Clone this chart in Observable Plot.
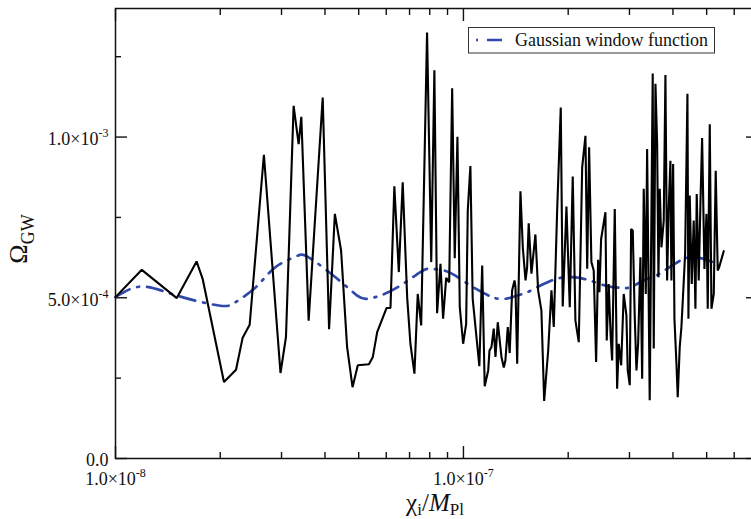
<!DOCTYPE html>
<html>
<head>
<meta charset="utf-8">
<script src="https://cdn.jsdelivr.net/npm/d3@7"></script>
<script src="https://cdn.jsdelivr.net/npm/@observablehq/plot@0.6"></script>
<style>
  html, body { margin: 0; padding: 0; background: #fff; overflow: hidden; }
  #chart { width: 751px; height: 519px; overflow: hidden; }
</style>
</head>
<body>
<div id="chart"></div>
<script>
// ---- data ----
const chiSpectrum = [
  1.00e-8, 1.19e-8, 1.50e-8, 1.71e-8, 1.78e-8, 2.05e-8, 2.22e-8, 2.32e-8, 2.43e-8, 2.67e-8,
  2.98e-8, 3.09e-8, 3.25e-8, 3.36e-8, 3.42e-8, 3.59e-8, 3.94e-8, 4.11e-8, 4.27e-8, 4.45e-8,
  4.63e-8, 4.80e-8, 4.97e-8, 5.35e-8, 5.49e-8, 5.65e-8, 6.01e-8, 6.17e-8, 6.33e-8, 6.52e-8,
  6.69e-8, 6.89e-8, 7.04e-8, 7.23e-8, 7.39e-8, 7.56e-8, 7.86e-8, 8.08e-8, 8.25e-8, 8.40e-8,
  8.59e-8, 8.74e-8, 8.92e-8, 9.10e-8, 9.28e-8, 9.44e-8, 9.61e-8, 9.76e-8, 9.98e-8, 1.018e-7,
  1.029e-7, 1.047e-7, 1.063e-7, 1.111e-7, 1.132e-7, 1.151e-7, 1.178e-7, 1.188e-7, 1.204e-7, 1.222e-7,
  1.236e-7, 1.255e-7, 1.286e-7, 1.306e-7, 1.320e-7, 1.341e-7, 1.358e-7, 1.380e-7, 1.402e-7, 1.411e-7,
  1.427e-7, 1.458e-7, 1.481e-7, 1.508e-7, 1.524e-7, 1.540e-7, 1.568e-7, 1.610e-7, 1.639e-7, 1.675e-7,
  1.706e-7, 1.752e-7, 1.790e-7, 1.818e-7, 1.859e-7, 1.904e-7, 1.929e-7, 1.977e-7, 2.021e-7, 2.061e-7,
  2.098e-7, 2.145e-7, 2.194e-7, 2.242e-7, 2.268e-7, 2.297e-7, 2.332e-7, 2.368e-7, 2.406e-7, 2.438e-7,
  2.459e-7, 2.487e-7, 2.559e-7, 2.581e-7, 2.615e-7, 2.650e-7, 2.675e-7, 2.722e-7, 2.765e-7, 2.795e-7,
  2.840e-7, 2.888e-7, 2.940e-7, 2.966e-7, 3.006e-7, 3.033e-7, 3.066e-7, 3.106e-7, 3.142e-7, 3.177e-7,
  3.226e-7, 3.263e-7, 3.297e-7, 3.342e-7, 3.372e-7, 3.430e-7, 3.499e-7, 3.523e-7, 3.563e-7, 3.603e-7,
  3.634e-7, 3.666e-7, 3.707e-7, 3.764e-7, 3.806e-7, 3.849e-7, 3.890e-7, 3.934e-7, 3.960e-7, 4.005e-7,
  4.040e-7, 4.094e-7, 4.129e-7, 4.184e-7, 4.231e-7, 4.279e-7, 4.336e-7, 4.403e-7, 4.432e-7, 4.470e-7,
  4.530e-7, 4.590e-7, 4.642e-7, 4.682e-7, 4.744e-7, 4.798e-7, 4.852e-7, 4.927e-7, 4.993e-7, 5.036e-7,
  5.104e-7, 5.161e-7, 5.241e-7, 5.309e-7, 5.380e-7, 5.431e-7, 5.598e-7
];
const omegaSpectrum = [
  5.02e-4, 5.87e-4, 4.99e-4, 6.13e-4, 5.59e-4, 2.38e-4, 2.76e-4, 3.76e-4, 4.16e-4, 9.45e-4,
  2.66e-4, 3.78e-4, 1.097e-3, 9.78e-4, 1.063e-3, 4.29e-4, 1.123e-3, 4.02e-4, 7.61e-4, 6.47e-4,
  3.47e-4, 2.22e-4, 2.90e-4, 2.93e-4, 3.16e-4, 3.93e-4, 4.68e-4, 4.68e-4, 8.47e-4, 5.80e-4,
  8.59e-4, 5.02e-4, 3.57e-4, 2.64e-4, 5.12e-4, 4.14e-4, 1.325e-3, 6.11e-4, 1.208e-3, 4.52e-4,
  6.06e-4, 4.35e-4, 5.62e-4, 5.48e-4, 1.152e-3, 6.23e-4, 1.001e-3, 4.71e-4, 3.57e-4, 4.19e-4,
  7.71e-4, 9.10e-4, 4.97e-4, 2.87e-4, 6.00e-4, 2.25e-4, 2.74e-4, 3.36e-4, 3.47e-4, 4.04e-4,
  3.16e-4, 4.24e-4, 3.16e-4, 2.83e-4, 3.05e-4, 4.09e-4, 3.28e-4, 5.23e-4, 5.54e-4, 5.33e-4,
  2.95e-4, 8.31e-4, 6.57e-4, 5.54e-4, 5.95e-4, 7.32e-4, 5.75e-4, 6.97e-4, 5.23e-4, 4.61e-4,
  1.79e-4, 3.36e-4, 5.23e-4, 4.09e-4, 7.71e-4, 1.092e-3, 4.73e-4, 7.84e-4, 4.71e-4, 8.77e-4,
  4.29e-4, 3.62e-4, 9.06e-4, 1.004e-3, 5.90e-4, 9.68e-4, 6.11e-4, 5.85e-4, 3.00e-4, 6.18e-4,
  5.17e-4, 6.83e-4, 7.66e-4, 3.67e-4, 5.43e-4, 3.78e-4, 3.05e-4, 7.76e-4, 2.17e-4, 3.57e-4,
  2.90e-4, 5.12e-4, 4.45e-4, 2.74e-4, 2.28e-4, 7.14e-4, 7.09e-4, 4.45e-4, 2.74e-4, 3.57e-4,
  6.26e-4, 2.48e-4, 8.39e-4, 5.12e-4, 9.63e-4, 1.81e-4, 1.198e-3, 3.42e-4, 1.166e-3, 9.78e-4,
  5.64e-4, 8.39e-4, 6.57e-4, 7.40e-4, 1.193e-3, 5.54e-4, 7.81e-4, 9.26e-4, 5.54e-4, 9.16e-4,
  4.35e-4, 2.95e-4, 1.91e-4, 3.47e-4, 4.09e-4, 5.12e-4, 6.37e-4, 1.135e-3, 4.35e-4, 8.18e-4,
  5.43e-4, 7.40e-4, 4.66e-4, 8.23e-4, 5.54e-4, 7.92e-4, 9.97e-4, 5.90e-4, 7.61e-4, 4.66e-4,
  1.040e-3, 4.66e-4, 5.12e-4, 8.95e-4, 5.85e-4, 5.95e-4, 6.45e-4
];
const chiWindow = [
  1.00e-8, 1.19e-8, 1.50e-8, 1.98e-8, 2.21e-8, 2.53e-8, 2.88e-8, 3.29e-8, 3.59e-8, 4.34e-8,
  4.95e-8, 5.29e-8, 5.77e-8, 6.52e-8, 7.52e-8, 8.04e-8, 8.78e-8, 9.48e-8, 1.047e-7, 1.157e-7,
  1.222e-7, 1.320e-7, 1.427e-7, 1.524e-7, 1.629e-7, 1.778e-7, 1.900e-7, 2.053e-7, 2.217e-7, 2.395e-7,
  2.615e-7, 2.826e-7, 3.020e-7, 3.297e-7, 3.523e-7, 3.724e-7, 4.204e-7, 4.543e-7, 4.904e-7, 5.416e-7
];
const omegaWindow = [
  5.02e-4, 5.35e-4, 5.07e-4, 4.76e-4, 4.86e-4, 5.33e-4, 5.95e-4, 6.28e-4, 6.26e-4, 5.59e-4,
  5.07e-4, 4.97e-4, 5.07e-4, 5.35e-4, 5.80e-4, 5.90e-4, 5.85e-4, 5.69e-4, 5.38e-4, 5.12e-4,
  5.00e-4, 4.97e-4, 5.07e-4, 5.17e-4, 5.33e-4, 5.52e-4, 5.62e-4, 5.64e-4, 5.59e-4, 5.48e-4,
  5.35e-4, 5.31e-4, 5.33e-4, 5.54e-4, 5.66e-4, 5.80e-4, 6.16e-4, 6.26e-4, 6.21e-4, 6.03e-4
];
const xMajorTicks = [1e-8, 1e-7];
const xMinorTicks = [2e-8, 3e-8, 4e-8, 5e-8, 6e-8, 7e-8, 8e-8, 9e-8, 2e-7, 3e-7, 4e-7, 5e-7, 6e-7, 7e-7];
const xTickLabels = ["1.0×10^-8", "1.0×10^-7"];
const yMajorTicks = [0, 5e-4, 1e-3];
const yMinorTicks = [2.5e-4, 7.5e-4, 1.25e-3];
const yTickLabels = ["0.0", "5.0×10^-4", "1.0×10^-3"];
const legendLabel = "Gaussian window function";
const yTitle = ["Ω", "GW"];
const xTitle = ["χ", "i", "/", "M", "Pl"];

// ---- tables ----
const spectrum = chiSpectrum.map((c, i) => ({chi: c, omega: omegaSpectrum[i]}));
const windowFn = chiWindow.map((c, i) => ({chi: c, omega: omegaWindow[i]}));

const blue = "#2f48aa";
const ink = "#111";
const tickCommon = {label: null, fill: "none", stroke: ink, strokeWidth: 1.4};

const chart = Plot.plot({
  width: 751,
  height: 519,
  marginLeft: 115,
  marginRight: -6,
  marginTop: 8,
  marginBottom: 61,
  x: {type: "log", domain: [1e-8, 7e-7]},
  y: {domain: [0, 1.4e-3]},
  style: {fontFamily: "'Liberation Serif', 'DejaVu Serif', serif", fontSize: "18px", background: "white", color: ink},
  marks: [
    Plot.line(windowFn, {x: "chi", y: "omega", stroke: blue, strokeWidth: 2.7, strokeDasharray: "16,8,2,8", curve: "natural"}),
    Plot.line(spectrum, {x: "chi", y: "omega", stroke: "#000", strokeWidth: 2.1, strokeLinejoin: "miter"}),
    Plot.frame({stroke: ink, strokeWidth: 1.5}),
    Plot.axisX(xMajorTicks, {anchor: "bottom", tickSize: -12, ...tickCommon}),
    Plot.axisX(xMinorTicks, {anchor: "bottom", tickSize: -6, ...tickCommon}),
    Plot.axisX(xMajorTicks, {anchor: "top", tickSize: -12, ...tickCommon}),
    Plot.axisX(xMinorTicks, {anchor: "top", tickSize: -6, ...tickCommon}),
    Plot.axisY(yMajorTicks, {anchor: "left", tickSize: -12, ...tickCommon}),
    Plot.axisY(yMinorTicks, {anchor: "left", tickSize: -6, ...tickCommon}),
    Plot.axisY(yMajorTicks, {anchor: "right", tickSize: -12, ...tickCommon}),
    Plot.axisY(yMinorTicks, {anchor: "right", tickSize: -6, ...tickCommon}),
    Plot.axisX(xMajorTicks, {anchor: "bottom", tickSize: 0, tickPadding: 14, label: null, fill: ink,
      tickFormat: d => xTickLabels[xMajorTicks.indexOf(d)]}),
    Plot.axisY(yMajorTicks, {anchor: "left", tickSize: 0, tickPadding: 7, dy: 2, label: null, fill: ink,
      tickFormat: d => yTickLabels[yMajorTicks.indexOf(d)]})
  ]
});
document.getElementById("chart").append(chart);

const svg = d3.select(chart);
// superscript exponents in tick labels
svg.selectAll("text").each(function () {
  const t = this.textContent;
  if (t.includes("^")) {
    const [base, exp] = t.split("^");
    const s = d3.select(this);
    s.text(null);
    s.append("tspan").text(base);
    s.append("tspan").attr("dy", -8).attr("font-size", 12).text(exp);
  }
});

// y axis title
const yt = svg.append("text")
  .attr("transform", "translate(27,239) rotate(-90)")
  .attr("text-anchor", "middle")
  .attr("font-size", 26)
  .attr("fill", ink);
yt.append("tspan").text(yTitle[0]);
yt.append("tspan").attr("font-size", 18).attr("dy", 7).text(yTitle[1]);

// x axis title
const xt = svg.append("text")
  .attr("x", 435).attr("y", 511)
  .attr("text-anchor", "middle")
  .attr("font-size", 25)
  .attr("fill", ink);
xt.append("tspan").text(xTitle[0]);
xt.append("tspan").attr("font-size", 17).attr("dy", 4).text(xTitle[1]);
xt.append("tspan").attr("dy", -4).text(xTitle[2]);
xt.append("tspan").attr("font-style", "italic").text(xTitle[3]);
xt.append("tspan").attr("font-size", 17).attr("dy", 4).text(xTitle[4]);

// legend
const lg = svg.append("g");
lg.append("rect")
  .attr("x", 468.5).attr("y", 27.5).attr("width", 246).attr("height", 25.5)
  .attr("fill", "white").attr("stroke", "#333").attr("stroke-width", 1);
lg.append("line")
  .attr("x1", 476).attr("x2", 503).attr("y1", 40).attr("y2", 40)
  .attr("stroke", blue).attr("stroke-width", 2.7).attr("stroke-dasharray", "2,9,15,100");
lg.append("text")
  .attr("x", 515).attr("y", 46)
  .attr("text-anchor", "start")
  .attr("font-size", 18).attr("fill", ink)
  .text(legendLabel);
</script>
</body>
</html>
